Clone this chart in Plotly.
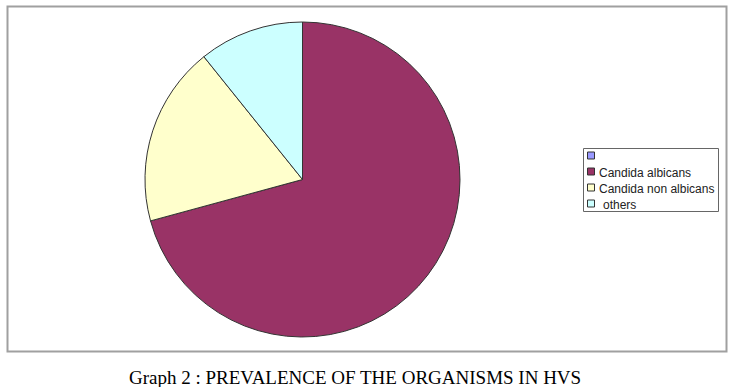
import plotly.graph_objects as go

labels = ["", "Candida albicans", "Candida non albicans", "others"]
values = [0, 46, 12, 7]
colors = ["#9999FF", "#993366", "#FFFFCC", "#CCFFFF"]
caption = "Graph 2 : PREVALENCE OF THE ORGANISMS IN HVS"

W, H = 751, 387


def px(x):
    return x / W


def py(y):
    return 1 - y / H


fig = go.Figure(go.Pie(
    labels=[l if l else " " for l in labels],
    values=values,
    sort=False,
    direction="clockwise",
    rotation=0,
    marker=dict(colors=colors, line=dict(color="#333333", width=1)),
    textinfo="none",
    hoverinfo="label+value+percent",
    showlegend=False,
    domain=dict(x=[px(145), px(460)], y=[py(337), py(22)]),
))

shapes = [
    # outer chart border
    dict(type="rect", xref="paper", yref="paper",
         x0=px(7.5), x1=px(726.5), y0=py(351.5), y1=py(6.5),
         line=dict(color="#A0A0A0", width=2), fillcolor="rgba(0,0,0,0)"),
    # legend box
    dict(type="rect", xref="paper", yref="paper",
         x0=px(583.5), x1=px(718.5), y0=py(211.5), y1=py(148.5),
         line=dict(color="#666666", width=1), fillcolor="white"),
]
annotations = []
for i, (lab, col) in enumerate(zip(labels, colors)):
    yc = 155.5 + 16 * i
    shapes.append(dict(type="rect", xref="paper", yref="paper",
                       x0=px(587.5), x1=px(594.5), y0=py(yc + 3.5), y1=py(yc - 3.5),
                       line=dict(color="#333333", width=1), fillcolor=col))
    if lab:
        annotations.append(dict(
            text=lab, xref="paper", yref="paper",
            x=px(596.5 + (4 if lab == "others" else 0)), y=py(yc + 1),
            xanchor="left", yanchor="middle", showarrow=False,
            font=dict(family="Liberation Sans, Arial", size=12, color="#222222"),
        ))

annotations.append(dict(
    text=caption, xref="paper", yref="paper",
    x=px(355), y=py(377), xanchor="center", yanchor="middle",
    showarrow=False,
    font=dict(family="Liberation Serif, Times New Roman", size=19, color="#000000"),
))

fig.update_layout(
    width=W, height=H,
    margin=dict(l=0, r=0, t=0, b=0),
    paper_bgcolor="white",
    plot_bgcolor="white",
    shapes=shapes,
    annotations=annotations,
)

fig.write_html("out.html")
